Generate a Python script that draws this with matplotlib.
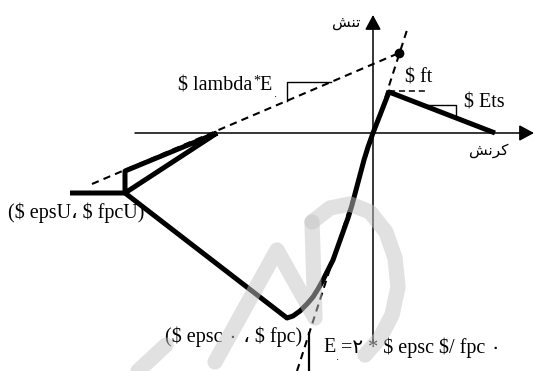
import matplotlib
matplotlib.use('Agg')
import matplotlib.pyplot as plt

plt.rcParams['font.family'] = ['Liberation Serif', 'DejaVu Sans']

# backbone of the concrete model: residual, softening branch, compression curve, tension
ENV_STRAIN = [-30.3, -24.8, -8.6, -8.0, -7.3, -6.6, -6.0, -5.5, -5.0, -4.5, -4.0,
              -3.5, -3.0, -2.5, -2.1, -1.7, -1.3, -0.9, -0.5, 0.0, 1.6, 12.2]
ENV_STRESS = [-6.0, -6.0, -18.5, -18.3, -17.8, -17.1, -16.4, -15.6, -14.7, -13.7, -12.7,
              -11.3, -9.9, -8.5, -7.2, -5.7, -4.2, -2.7, -1.4, 0.0, 4.1, 0.0]

# unloading / reloading from (epsU, fpcU)
UNLOAD_STRAIN = [-15.6, -24.8, -24.8, -15.6]
UNLOAD_STRESS = [0.0, -6.0, -3.8, 0.0]

# lambda*E0 line and initial tangent E0
LAMBDA_STRAIN = [-28.1, 2.6]
LAMBDA_STRESS = [-5.1, 8.0]
TANGENT_STRAIN = [-7.6, 3.4]
TANGENT_STRESS = [-23.8, 10.3]
DOT = (2.6, 8.0)

FT_STRAIN = [1.6, 5.4]
FT_STRESS = [4.2, 4.2]
ETS_TRI_STRAIN = [5.2, 8.3, 8.3]
ETS_TRI_STRESS = [2.85, 2.85, 1.5]
LAM_TRI_STRAIN = [-8.6, -8.6, -4.2]
LAM_TRI_STRESS = [3.2, 5.1, 5.1]
E0_TRI_STRAIN = [-6.4, -6.4]
E0_TRI_STRESS = [-20.0, -23.8]

# logo strokes laid over the sketch
LOGO = [
    ([-23.5, -20.7], [-23.8, -21.2]),
    ([-15.8, -9.6, -5.8, -6.1], [-22.9, -11.7, -18.5, -8.9]),
    ([-6.1, -4.3, -2.3, -0.3, 1.3, 2.2, 2.5, 1.9, 0.7, -0.8],
     [-8.9, -7.5, -7.1, -7.9, -9.9, -12.5, -15.4, -18.2, -20.5, -22.2]),
]

fig = plt.figure(figsize=(5.34, 3.71), dpi=100)
ax = fig.add_axes([0, 0, 1, 1])
ax.set_xlim(-37.3, 16.1)
ax.set_ylim(-23.8, 13.3)
ax.axis('off')

# axes with arrow heads
arrow = dict(arrowstyle='-|>,head_length=0.5,head_width=0.27', lw=1.1, color='k',
             mutation_scale=18, shrinkA=0, shrinkB=0)
ax.annotate('', xy=(16.1, 0), xytext=(-23.8, 0), arrowprops=arrow)
ax.annotate('', xy=(0, 11.8), xytext=(0, -20.9), arrowprops=arrow)

thick = dict(color='k', lw=3.6, solid_joinstyle='round', solid_capstyle='butt')
ax.plot(ENV_STRAIN, ENV_STRESS, **thick)
ax.plot(UNLOAD_STRAIN, UNLOAD_STRESS, **thick)

dash = dict(color='k', lw=1.5, dashes=(3.5, 2.5))
ax.plot(LAMBDA_STRAIN, LAMBDA_STRESS, **dash)
ax.plot(TANGENT_STRAIN, TANGENT_STRESS, **dash)
ax.plot(FT_STRAIN, FT_STRESS, color='k', lw=1.1, dashes=(4, 2.5))
ax.plot(*DOT, 'o', color='k', ms=6)

ax.plot(ETS_TRI_STRAIN, ETS_TRI_STRESS, color='k', lw=1.0)
ax.plot(LAM_TRI_STRAIN, LAM_TRI_STRESS, color='k', lw=1.0)
ax.plot(E0_TRI_STRAIN, E0_TRI_STRESS, color='k', lw=1.6)

fs = 14.5
txt = dict(fontsize=fs, parse_math=False, va='center')
ax.text(-2.7, 11.1, '\ufeb6\ufee8\ufe97', ha='center', fontsize=11, family='DejaVu Sans', va='center')
ax.text(11.6, -1.7, '\ufeb6\ufee7\ufeae\ufb90', ha='center', fontsize=11, family='DejaVu Sans', va='center')
ax.text(4.6, 5.5, '$ ft', ha='center', **txt)
ax.text(11.1, 3.0, '$ Ets', ha='center', **txt)

# "$ lambda*E0" built piece by piece so the star and subscript sit beside the text
lam = ax.text(-19.5, 4.7, '$ lambda', ha='left', **txt)
ax.annotate('*', xy=(1, 0.75), xycoords=lam, xytext=(0.5, 0), textcoords='offset points',
            ha='left', va='center', fontsize=10, annotation_clip=False)
e_lam = ax.annotate('E', xy=(1, 0.5), xycoords=lam, xytext=(5.5, 0), textcoords='offset points',
                    ha='left', va='center', fontsize=fs, annotation_clip=False)
ax.annotate('\u0660', xy=(1, 0.1), xycoords=e_lam, xytext=(0.5, -2), textcoords='offset points',
            ha='left', va='center', fontsize=7, annotation_clip=False)

ax.text(-36.5, -8.0, '($ epsU\u060c $ fpcU)', ha='left', **txt)
ax.text(-20.8, -20.4, '($ epsc \u0660 \u060c $ fpc)', ha='left', **txt)

e0 = ax.text(-5.0, -21.5, 'E', ha='left', **txt)
ax.annotate('\u0660', xy=(1, 0.1), xycoords=e0, xytext=(0, -3), textcoords='offset points',
            ha='left', va='center', fontsize=7, annotation_clip=False)
ax.annotate('=\u06f2 * $ epsc $/ fpc \u0660', xy=(1, 0.5), xycoords=e0, xytext=(4, 0),
            textcoords='offset points', ha='left', va='center', fontsize=fs,
            parse_math=False, annotation_clip=False)

for xs, ys in LOGO:
    ax.plot(xs, ys, color='#c4c4c4', alpha=0.5, lw=11, solid_capstyle='round',
            solid_joinstyle='round', zorder=5)

fig.savefig('out.png', dpi=100)
